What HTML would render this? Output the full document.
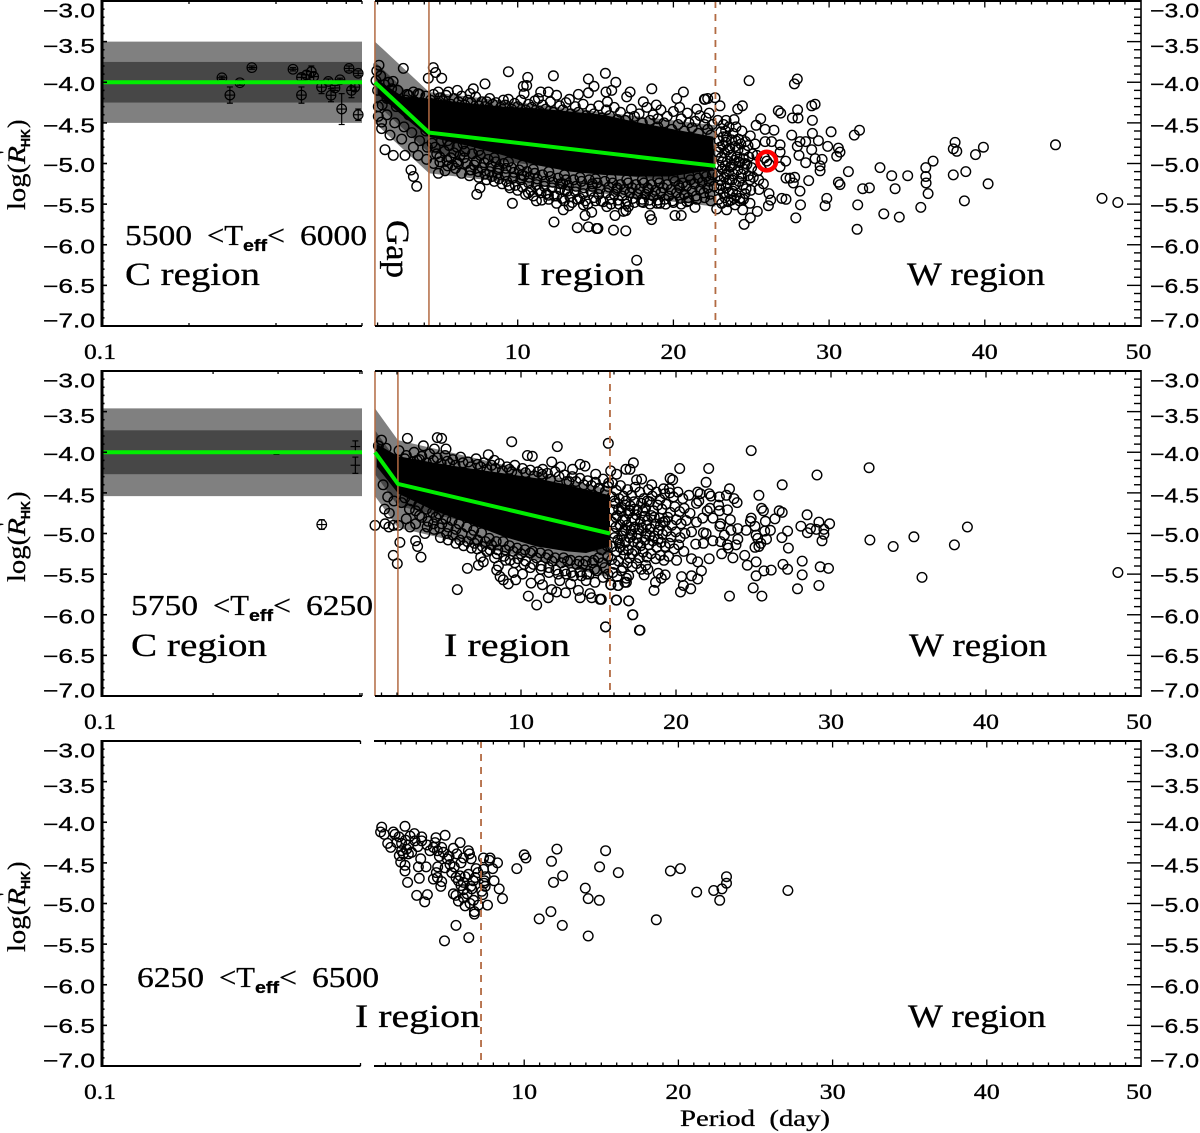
<!DOCTYPE html>
<html lang="en">
<head>
<meta charset="utf-8">
<title>log(R'HK) versus rotation period in three temperature bins</title>
<style>
html,body{margin:0;padding:0;background:#fff}
svg{display:block}
text{fill:#000;white-space:pre;stroke:#000;stroke-width:.3}
.s{font-family:"Liberation Serif",serif}
.a{font-family:"Liberation Sans",sans-serif}
</style>
</head>
<body>
<svg id="chart" xmlns="http://www.w3.org/2000/svg" width="1200" height="1133" viewBox="0 0 1200 1133">
<g id="marks"></g>
<g id="annotations">
<g>
<text class="s" x="125" y="245" font-size="28" textLength="67" lengthAdjust="spacingAndGlyphs">5500</text>
<text class="s" x="207" y="245" font-size="28" textLength="36" lengthAdjust="spacingAndGlyphs">&lt;T</text>
<text class="a" x="243" y="251" font-size="17" font-weight="bold" textLength="24" lengthAdjust="spacingAndGlyphs">eff</text>
<text class="s" x="267" y="245" font-size="28" textLength="18" lengthAdjust="spacingAndGlyphs">&lt;</text>
<text class="s" x="300" y="245" font-size="28" textLength="67" lengthAdjust="spacingAndGlyphs">6000</text>
<text class="s" x="125" y="285" font-size="33" textLength="135" lengthAdjust="spacingAndGlyphs">C region</text>
<text class="s" x="517" y="285" font-size="33" textLength="128" lengthAdjust="spacingAndGlyphs">I region</text>
<text class="s" x="907" y="285" font-size="33" textLength="138" lengthAdjust="spacingAndGlyphs">W region</text>
<text class="s" transform="translate(387,220) rotate(90)" font-size="33" textLength="58" lengthAdjust="spacingAndGlyphs">Gap</text>
</g>
<g>
<text class="s" x="131" y="615" font-size="28" textLength="67" lengthAdjust="spacingAndGlyphs">5750</text>
<text class="s" x="213" y="615" font-size="28" textLength="36" lengthAdjust="spacingAndGlyphs">&lt;T</text>
<text class="a" x="249" y="621" font-size="17" font-weight="bold" textLength="24" lengthAdjust="spacingAndGlyphs">eff</text>
<text class="s" x="273" y="615" font-size="28" textLength="18" lengthAdjust="spacingAndGlyphs">&lt;</text>
<text class="s" x="306" y="615" font-size="28" textLength="67" lengthAdjust="spacingAndGlyphs">6250</text>
<text class="s" x="131" y="656" font-size="33" textLength="136" lengthAdjust="spacingAndGlyphs">C region</text>
<text class="s" x="444" y="656" font-size="33" textLength="126" lengthAdjust="spacingAndGlyphs">I region</text>
<text class="s" x="909" y="656" font-size="33" textLength="138" lengthAdjust="spacingAndGlyphs">W region</text>
</g>
<g>
<text class="s" x="137" y="987" font-size="28" textLength="67" lengthAdjust="spacingAndGlyphs">6250</text>
<text class="s" x="219" y="987" font-size="28" textLength="36" lengthAdjust="spacingAndGlyphs">&lt;T</text>
<text class="a" x="255" y="993" font-size="17" font-weight="bold" textLength="24" lengthAdjust="spacingAndGlyphs">eff</text>
<text class="s" x="279" y="987" font-size="28" textLength="18" lengthAdjust="spacingAndGlyphs">&lt;</text>
<text class="s" x="312" y="987" font-size="28" textLength="67" lengthAdjust="spacingAndGlyphs">6500</text>
<text class="s" x="355" y="1027" font-size="33" textLength="125" lengthAdjust="spacingAndGlyphs">I region</text>
<text class="s" x="908" y="1027" font-size="33" textLength="138" lengthAdjust="spacingAndGlyphs">W region</text>
</g>
<text class="s" x="680" y="1126" font-size="23" textLength="150" lengthAdjust="spacingAndGlyphs">Period  (day)</text>
<g transform="translate(25,210) rotate(-90)">
<text class="s" x="0" y="0" font-size="25" textLength="46" lengthAdjust="spacingAndGlyphs">log(</text>
<text class="s" x="46" y="0" font-size="25" font-style="italic" textLength="18" lengthAdjust="spacingAndGlyphs">R</text>
<text class="s" x="56" y="-14" font-size="18">'</text>
<text class="a" x="63" y="5" font-size="13" font-weight="bold" textLength="18" lengthAdjust="spacingAndGlyphs">HK</text>
<text class="s" x="82" y="0" font-size="25">)</text>
</g>
<g transform="translate(25,582) rotate(-90)">
<text class="s" x="0" y="0" font-size="25" textLength="46" lengthAdjust="spacingAndGlyphs">log(</text>
<text class="s" x="46" y="0" font-size="25" font-style="italic" textLength="18" lengthAdjust="spacingAndGlyphs">R</text>
<text class="s" x="56" y="-14" font-size="18">'</text>
<text class="a" x="63" y="5" font-size="13" font-weight="bold" textLength="18" lengthAdjust="spacingAndGlyphs">HK</text>
<text class="s" x="82" y="0" font-size="25">)</text>
</g>
<g transform="translate(25,952) rotate(-90)">
<text class="s" x="0" y="0" font-size="25" textLength="46" lengthAdjust="spacingAndGlyphs">log(</text>
<text class="s" x="46" y="0" font-size="25" font-style="italic" textLength="18" lengthAdjust="spacingAndGlyphs">R</text>
<text class="s" x="56" y="-14" font-size="18">'</text>
<text class="a" x="63" y="5" font-size="13" font-weight="bold" textLength="18" lengthAdjust="spacingAndGlyphs">HK</text>
<text class="s" x="82" y="0" font-size="25">)</text>
</g>
</g>
</svg>
<script>
// ---------- axis data ----------
const yTicks = [-3, -3.5, -4, -4.5, -5, -5.5, -6, -6.5, -7];
const yTickLabels = ['\u22123.0', '\u22123.5', '\u22124.0', '\u22124.5', '\u22125.0', '\u22125.5', '\u22126.0', '\u22126.5', '\u22127.0'];
const xTicks = [10, 20, 30, 40, 50];
const xTickLabels = ['10', '20', '30', '40', '50'];

// ---------- panel 1 : 5500 < Teff < 6000 ----------
const p1BandPeriod = [0.83, 4.3, 22.7];
const p1BandFit = [-4.0, -4.62, -5.03];
const p1GapEdges = [0.83, 4.3];
const p1Boundary = 22.7;
const p1CWidthOuter = 0.5;
const p1CWidthInner = 0.25;
const p1CorePeriod = [1.0, 2.65, 4.26, 6.94, 9.08, 11.22, 13.36, 15.5, 17.64, 19.79, 22.57];
const p1CoreUpper = [-3.97, -4.18, -4.2, -4.26, -4.3, -4.32, -4.36, -4.4, -4.49, -4.57, -4.67];
const p1CoreLower = [-4.15, -4.42, -4.67, -4.79, -4.9, -5.02, -5.1, -5.14, -5.16, -5.16, -5.08];
const p1LeftStars = [[.26,-3.945],[.33,-3.82],[.30,-4.006],[.277,-4.158],[.458,-3.84],[.49,-4.158],[.53,-3.87],[.51,-3.91],[.49,-3.94],[.54,-3.93],[.575,-4.06],[.607,-3.99],[.62,-4.16],[.666,-3.97],[.64,-4.07],[.675,-4.33],[.716,-3.83],[.73,-4.10],[.77,-3.89],[.77,-4.40],[.75,-4.06]];
const p1LeftErrors = [.02,.02,.03,.1,.02,.1,.07,.05,.04,.05,.08,.03,.08,.02,.03,.19,.03,.09,.03,.07,.05];
const p1Highlight = [26.0, -4.97];
const p1Gap = [[1.09,-3.79],[2.65,-3.83],[1.2,-3.92],[.95,-3.86],[.9,-3.98],[2.0,-3.99],[1.7,-4.0],[1.45,-4.03],[1.0,-4.1],[1.9,-4.08],[2.3,-4.1],[3.3,-4.12],[2.9,-4.15],[3.7,-4.15],[1.26,-4.49],[1.26,-4.57],[1.8,-4.65],[2.55,-4.7],[1.48,-4.83],[2.01,-4.9],[2.76,-4.9],[1.05,-4.3],[1.3,-4.28],[1.05,-4.42],[1.6,-4.4],[2.1,-4.5],[2.7,-4.55],[3.2,-4.62],[3.7,-4.72],[3.3,-4.8],[3.15,-5.08],[3.3,-5.16],[3.51,-5.28],[4.15,-4.95],[3.6,-4.9],[2.2,-4.3],[1.6,-4.2],[3.0,-4.4],[3.8,-4.5],[4.1,-4.6],[4.2,-4.8]];
const p1Upper = [[4.58,-3.82],[4.73,-3.88],[5.12,-3.95],[4.26,-3.95],[9.4,-3.87],[10.64,-3.94],[12.29,-3.92],[14.54,-3.96],[15.63,-3.89],[16.3,-4.0],[14.9,-4.05],[10.58,-4.04],[10.36,-4.05],[10.41,-4.14],[7.9,-4.02],[7.15,-4.08],[6.94,-4.14],[6.12,-4.1],[5.55,-4.12],[4.9,-4.12],[18.61,-4.08],[20.64,-4.12],[20.21,-4.2],[21.99,-4.21],[22.2,-4.2],[17.22,-4.12],[17.0,-4.18],[18.07,-4.24],[16.04,-4.1],[15.67,-4.12],[15.76,-4.24],[13.9,-4.15],[14.54,-4.13],[13.32,-4.21],[12.5,-4.16],[11.97,-4.12],[11.48,-4.12],[11.33,-4.2],[9.08,-4.22],[8.01,-4.24],[3.0,-4.16],[3.6,-4.14],[4.1,-4.17],[4.6,-4.15],[5.0,-4.19],[5.4,-4.16],[5.9,-4.2],[6.4,-4.17],[6.8,-4.22],[7.3,-4.18],[7.7,-4.24],[8.2,-4.2],[8.6,-4.25],[9.4,-4.21],[9.8,-4.26],[10.2,-4.22],[10.7,-4.27],[11.1,-4.23],[11.6,-4.28],[12.1,-4.24],[12.7,-4.29],[13.1,-4.25],[13.7,-4.3],[14.2,-4.27],[14.7,-4.33],[15.2,-4.29],[15.7,-4.34],[16.2,-4.31],[16.6,-4.37],[17.3,-4.33],[17.8,-4.39],[18.3,-4.31],[18.7,-4.4],[19.2,-4.34],[19.6,-4.42],[20.0,-4.36],[20.5,-4.45],[20.9,-4.38],[21.4,-4.48],[21.7,-4.41],[22.1,-4.44],[22.5,-4.52],[22.3,-4.38],[21.0,-4.5],[19.0,-4.45],[17.1,-4.43],[18.9,-4.28],[20.4,-4.31],[21.5,-4.33]];
const p1UpperEdge = [[4.4,-4.22],[4.9,-4.26],[5.2,-4.23],[5.7,-4.27],[6.2,-4.24],[6.6,-4.28],[7.0,-4.25],[7.5,-4.29],[7.9,-4.3],[8.4,-4.27],[8.9,-4.31],[9.2,-4.28],[9.6,-4.33],[10.0,-4.3],[10.5,-4.34],[10.9,-4.31],[11.4,-4.36],[11.8,-4.33],[12.3,-4.37],[12.9,-4.34],[13.4,-4.39],[13.9,-4.37],[14.4,-4.41],[14.9,-4.39],[15.4,-4.44],[15.9,-4.41],[16.4,-4.46],[16.9,-4.47],[17.5,-4.42],[18.0,-4.5],[18.5,-4.47],[19.0,-4.55],[19.4,-4.5],[19.9,-4.58],[20.3,-4.52],[20.7,-4.6],[21.2,-4.56],[21.6,-4.63],[22.0,-4.52],[22.4,-4.65],[22.2,-4.58],[3.4,-4.24],[3.9,-4.26],[2.8,-4.22]];
const p1Lower = [[4.5,-4.75],[4.8,-4.88],[4.6,-5.0],[5.1,-4.72],[5.3,-4.85],[5.0,-4.98],[5.6,-4.78],[5.7,-4.93],[5.5,-5.03],[6.1,-4.8],[6.3,-4.9],[6.0,-5.06],[6.6,-4.85],[6.7,-5.0],[6.4,-5.12],[7.1,-4.88],[7.2,-5.02],[6.9,-5.15],[7.6,-4.9],[7.7,-5.05],[7.5,-5.17],[8.1,-4.95],[8.2,-5.1],[8.0,-5.2],[8.6,-4.98],[8.7,-5.12],[8.5,-5.22],[9.1,-5.0],[9.2,-5.14],[9.0,-5.25],[9.6,-5.05],[9.7,-5.18],[9.5,-5.3],[10.1,-5.08],[10.2,-5.2],[10.0,-5.33],[10.6,-5.1],[10.7,-5.24],[10.5,-5.38],[11.1,-5.12],[11.2,-5.26],[11.0,-5.4],[11.6,-5.14],[11.7,-5.28],[11.5,-5.36],[12.1,-5.16],[12.2,-5.3],[12.0,-5.44],[12.6,-5.18],[12.7,-5.32],[12.5,-5.4],[13.1,-5.2],[13.2,-5.34],[13.0,-5.46],[13.6,-5.2],[13.7,-5.35],[13.5,-5.48],[14.1,-5.22],[14.2,-5.37],[14.0,-5.43],[14.6,-5.2],[14.7,-5.34],[14.5,-5.5],[15.1,-5.24],[15.2,-5.38],[15.0,-5.46],[15.6,-5.22],[15.7,-5.36],[15.5,-5.47],[16.1,-5.24],[16.2,-5.38],[16.0,-5.5],[16.6,-5.26],[16.7,-5.4],[16.5,-5.5],[17.1,-5.24],[17.2,-5.36],[17.0,-5.46],[17.6,-5.26],[17.7,-5.38],[17.5,-5.48],[18.1,-5.24],[18.2,-5.38],[18.0,-5.44],[18.6,-5.26],[18.7,-5.4],[18.5,-5.5],[19.1,-5.24],[19.2,-5.36],[19.0,-5.45],[19.6,-5.26],[19.7,-5.4],[19.5,-5.5],[20.1,-5.22],[20.2,-5.36],[20.0,-5.48],[20.6,-5.24],[20.7,-5.38],[20.5,-5.5],[21.1,-5.2],[21.2,-5.34],[21.0,-5.46],[21.6,-5.18],[21.7,-5.32],[21.5,-5.44],[22.1,-5.16],[22.2,-5.3],[22.0,-5.42],[22.5,-5.14],[22.6,-5.28],[22.4,-5.46],[5.8,-5.02],[7.0,-5.08],[8.8,-5.05],[10.4,-5.15],[12.9,-5.25],[14.8,-5.28],[16.4,-5.3],[18.4,-5.32],[20.4,-5.3]];
const p1LowerFill = [[4.7,-4.8],[5.0,-4.92],[5.45,-4.96],[5.9,-4.87],[6.2,-5.0],[6.55,-4.93],[6.95,-5.08],[7.35,-4.97],[7.45,-5.1],[7.85,-4.99],[7.9,-5.13],[8.3,-5.03],[8.35,-5.16],[8.75,-5.07],[8.8,-5.19],[9.25,-5.06],[9.3,-5.22],[9.75,-5.11],[9.85,-5.27],[10.25,-5.14],[10.3,-5.29],[10.75,-5.17],[10.85,-5.33],[11.25,-5.19],[11.35,-5.33],[11.75,-5.22],[11.85,-5.37],[12.25,-5.23],[12.35,-5.4],[12.75,-5.25],[12.85,-5.43],[13.25,-5.27],[13.35,-5.41],[13.75,-5.28],[13.85,-5.44],[14.25,-5.3],[14.35,-5.46],[14.8,-5.25],[14.9,-5.42],[15.3,-5.31],[15.35,-5.46],[15.85,-5.29],[15.95,-5.44],[16.35,-5.32],[16.45,-5.45],[16.85,-5.32],[16.95,-5.5],[17.35,-5.3],[17.4,-5.43],[17.85,-5.31],[17.95,-5.47],[18.35,-5.3],[18.45,-5.45],[18.85,-5.33],[18.95,-5.49],[19.35,-5.3],[19.45,-5.44],[19.85,-5.32],[19.95,-5.46],[20.35,-5.27],[20.45,-5.43],[20.85,-5.28],[20.95,-5.42],[21.35,-5.25],[21.45,-5.4],[21.85,-5.23],[21.95,-5.36],[22.3,-5.22],[22.35,-5.38],[9.4,-4.98],[10.3,-5.02],[11.0,-5.07],[12.0,-5.1],[13.0,-5.14],[14.0,-5.17],[15.0,-5.19],[16.0,-5.18],[17.0,-5.2],[18.0,-5.2],[19.0,-5.19],[20.0,-5.18],[21.0,-5.15],[22.0,-5.12],[5.5,-4.72],[6.5,-4.76],[7.5,-4.84],[8.5,-4.93]];
const p1LowerOut = [[4.9,-5.12],[5.33,-5.09],[6.12,-4.98],[7.58,-5.3],[7.37,-5.38],[9.66,-5.49],[9.44,-5.27],[10.69,-5.36],[12.33,-5.72],[13.83,-5.79],[14.54,-5.78],[15.07,-5.8],[15.15,-5.8],[16.15,-5.82],[16.94,-5.83],[17.64,-6.19],[14.75,-5.6],[14.33,-5.64],[18.5,-5.64],[18.6,-5.69],[20.1,-5.64],[20.5,-5.64],[16.79,-5.59],[16.25,-5.64],[15.72,-5.53],[12.93,-5.57],[12.5,-5.49],[11.54,-5.45],[11.97,-5.39],[14.22,-5.51],[21.39,-5.54],[19.14,-5.49],[18.07,-5.48],[20.86,-5.47],[17.11,-5.53],[13.04,-5.33],[11.2,-5.46],[13.3,-5.52],[16.95,-5.58]];
const p1West = [[24.86,-3.98],[27.96,-3.96],[27.77,-4.02],[29.1,-4.27],[28.88,-4.29],[24.43,-4.29],[24.13,-4.33],[26.74,-4.35],[26.89,-4.38],[27.98,-4.34],[27.64,-4.44],[28.0,-4.44],[28.93,-4.47],[25.61,-4.45],[25.31,-4.53],[25.89,-4.58],[26.46,-4.59],[27.6,-4.65],[28.93,-4.63],[30.13,-4.61],[31.95,-4.59],[31.62,-4.65],[29.31,-4.72],[28.5,-4.73],[28.13,-4.73],[27.96,-4.79],[29.91,-4.79],[28.88,-4.83],[26.85,-4.77],[26.31,-4.73],[25.89,-4.73],[28.07,-4.9],[29.1,-4.94],[29.55,-4.95],[30.6,-4.81],[30.7,-4.86],[30.49,-4.91],[27.21,-4.97],[26.85,-5.04],[28.5,-4.99],[29.42,-5.03],[29.42,-5.09],[31.24,-5.1],[33.27,-5.05],[34.02,-5.15],[35.05,-5.15],[36.21,-5.05],[36.68,-4.97],[36.21,-5.16],[36.23,-5.24],[36.36,-5.37],[38.09,-4.74],[37.98,-4.82],[38.2,-4.85],[39.91,-4.8],[39.4,-4.89],[38.78,-5.1],[37.98,-5.14],[40.21,-5.25],[38.69,-5.46],[44.54,-4.77],[47.53,-5.43],[48.54,-5.48],[32.59,-5.3],[32.16,-5.31],[34.24,-5.31],[30.6,-5.23],[30.7,-5.26],[28.69,-5.21],[28.13,-5.34],[28.16,-5.51],[29.85,-5.43],[29.74,-5.52],[31.84,-5.51],[33.51,-5.62],[34.51,-5.66],[35.89,-5.54],[31.8,-5.81],[27.86,-5.67],[27.23,-5.18],[27.49,-5.18],[27.79,-5.17],[27.7,-5.24],[26.96,-5.43],[27.23,-5.44],[24.94,-5.67],[24.54,-5.75],[22.78,-5.56],[23.42,-5.57],[24.45,-5.57],[25.39,-5.59],[26.1,-5.52],[26.25,-5.45],[26.14,-5.37],[25.78,-5.25],[25.5,-5.32],[24.92,-5.2],[24.92,-5.49],[24.6,-5.37],[24.28,-5.43],[23.96,-5.51],[22.99,-4.29],[22.67,-4.19],[22.03,-4.21],[23.9,-4.46],[23.38,-4.47],[26.85,-4.86],[26.0,-4.97],[25.85,-4.93],[26.15,-5.01]];
const p1Cluster = [[22.85,-4.47],[23.05,-4.61],[23.22,-4.52],[23.41,-4.67],[23.58,-4.55],[23.83,-4.63],[24.02,-4.55],[24.18,-4.7],[24.4,-4.6],[24.63,-4.73],[24.94,-4.66],[25.25,-4.76],[22.95,-4.72],[23.18,-4.78],[23.36,-4.74],[23.62,-4.81],[23.74,-4.71],[23.96,-4.79],[24.15,-4.83],[24.33,-4.76],[24.58,-4.84],[24.79,-4.78],[25.08,-4.88],[25.36,-4.9],[22.88,-4.86],[23.07,-4.93],[23.29,-4.87],[23.47,-4.97],[23.7,-4.9],[23.92,-4.96],[24.08,-4.92],[24.27,-4.99],[24.49,-4.94],[24.72,-5.01],[25.02,-5.05],[25.42,-5.09],[22.93,-5.02],[23.14,-5.07],[23.33,-5.03],[23.55,-5.1],[23.66,-5.04],[23.87,-5.13],[24.13,-5.08],[24.36,-5.13],[24.54,-5.07],[24.81,-5.15],[25.13,-5.17],[25.48,-5.2],[22.86,-5.15],[23.03,-5.21],[23.27,-5.17],[23.44,-5.24],[23.77,-5.2],[23.98,-5.26],[24.21,-5.22],[24.45,-5.27],[24.67,-5.31],[24.97,-5.33],[22.97,-5.31],[23.2,-5.36],[23.38,-5.3],[23.6,-5.37],[23.81,-5.34],[24.05,-5.39],[24.25,-5.46],[24.5,-5.44],[22.9,-5.44],[23.1,-5.49],[23.31,-5.42],[23.52,-5.47],[23.72,-5.45],[23.9,-5.43],[23.0,-4.8],[23.15,-4.98],[23.4,-5.13],[23.5,-4.83],[23.8,-5.02],[24.0,-4.72],[24.2,-4.98],[24.4,-5.18],[23.2,-4.67],[23.6,-5.2],[24.6,-5.0],[24.85,-4.92],[23.05,-5.27],[23.35,-4.6]];

// ---------- panel 2 : 5750 < Teff < 6250 ----------
const p2BandPeriod = [0.58, 2.06, 15.74];
const p2BandFit = [-4.0, -4.39, -5.0];
const p2GapEdges = [0.58, 2.06];
const p2Boundary = 15.74;
const p2CWidthOuter = 0.54;
const p2CWidthInner = 0.27;
const p2CorePeriod = [0.7, 2.09, 4.4, 6.71, 8.9, 11.01, 13.0, 14.2, 15.74];
const p2CoreUpper = [-3.9, -4.05, -4.13, -4.2, -4.26, -4.32, -4.4, -4.46, -4.53];
const p2CoreLower = [-4.18, -4.51, -4.72, -4.88, -5.04, -5.16, -5.22, -5.24, -5.16];
const p2BarPeriod = [.297, .486, .486];
const p2BarLog = [-4.006, -3.93, -4.16];
const p2BarErrors = [.02, .07, .1];
const p2LeftStars = [[.394,-4.89]];
const p2LeftErrors = [.06];
const p2Upper = [[2.67,-3.83],[4.6,-3.82],[4.88,-3.83],[5.16,-3.96],[3.7,-3.92],[4.41,-3.96],[9.4,-3.87],[12.34,-3.93],[15.63,-3.89],[2.13,-3.98],[7.89,-4.03],[8.28,-4.1],[10.41,-4.04],[10.73,-4.05],[11.98,-4.12],[13.81,-4.15],[14.13,-4.17],[11.4,-4.21],[12.56,-4.18],[13.33,-4.21],[14.82,-4.27],[1.0,-3.85],[.8,-3.92],[1.3,-3.95],[2.6,-4.04],[3.1,-4.0],[3.6,-4.05],[4.1,-4.02],[4.6,-4.07],[5.1,-4.04],[5.6,-4.09],[6.1,-4.06],[6.6,-4.12],[7.1,-4.08],[7.6,-4.13],[8.1,-4.16],[8.6,-4.14],[9.1,-4.18],[9.6,-4.16],[10.1,-4.2],[10.6,-4.22],[11.1,-4.24],[11.7,-4.26],[12.2,-4.24],[12.8,-4.28],[13.3,-4.3],[13.8,-4.32],[14.3,-4.35],[14.8,-4.37],[15.3,-4.33],[15.6,-4.42],[3.3,-4.1],[5.4,-4.14],[7.4,-4.18],[9.4,-4.24],[11.4,-4.3],[13.1,-4.36],[15.0,-4.45]];
const p2UpperEdge = [[2.5,-4.08],[2.95,-4.12],[3.45,-4.09],[3.9,-4.13],[4.35,-4.1],[4.85,-4.14],[5.25,-4.11],[5.75,-4.16],[6.25,-4.13],[6.75,-4.18],[7.2,-4.15],[7.8,-4.21],[8.35,-4.2],[8.8,-4.23],[9.25,-4.21],[9.75,-4.27],[10.3,-4.25],[10.85,-4.29],[11.35,-4.27],[11.9,-4.33],[12.45,-4.3],[12.95,-4.36],[13.55,-4.36],[14.05,-4.4],[14.55,-4.41],[15.05,-4.44],[15.45,-4.48],[15.65,-4.38]];
const p2Lower = [[.58,-4.9],[1.23,-4.88],[1.48,-4.92],[1.76,-4.9],[2.09,-4.9],[2.84,-4.92],[2.19,-5.11],[3.2,-5.09],[3.33,-5.16],[3.55,-5.29],[1.76,-5.27],[2.02,-5.37],[6.54,-5.43],[5.89,-5.69],[10.47,-5.77],[11.01,-5.88],[11.76,-5.79],[12.3,-5.72],[12.88,-5.73],[13.7,-5.7],[13.81,-5.79],[14.45,-5.74],[14.56,-5.79],[15.1,-5.81],[15.18,-5.81],[15.46,-6.15],[16.17,-5.82],[16.95,-5.83],[17.2,-6.0],[17.68,-6.19],[10.65,-5.61],[11.38,-5.63],[11.98,-5.69],[14.77,-5.6],[15.8,-5.63],[16.28,-5.64],[16.8,-5.6],[8.43,-5.45],[8.54,-5.4],[8.65,-5.53],[8.86,-5.57],[9.18,-5.62],[9.5,-5.48],[9.66,-5.57],[7.18,-5.19],[7.4,-5.29],[7.57,-5.35],[7.25,-5.39],[1.1,-4.4],[1.4,-4.55],[1.2,-4.7],[1.8,-4.6],[1.5,-4.75],[2.3,-4.62],[2.8,-4.7],[2.6,-4.82],[3.2,-4.72],[3.6,-4.8],[3.2,-4.88],[4.0,-4.85],[4.5,-4.8],[3.8,-5.0],[4.4,-4.95],[4.9,-4.88],[5.3,-4.92],[4.8,-5.05],[5.3,-5.08],[5.8,-4.95],[6.2,-5.0],[5.8,-5.12],[6.3,-5.15],[6.8,-5.02],[7.2,-5.08],[6.8,-5.18],[7.7,-5.1],[8.1,-5.14],[7.8,-5.22],[8.5,-5.2],[9.0,-5.2],[8.3,-5.3],[9.0,-5.33],[9.5,-5.22],[10.0,-5.25],[9.6,-5.36],[10.2,-5.38],[10.6,-5.24],[11.0,-5.3],[10.6,-5.42],[11.3,-5.44],[11.6,-5.3],[12.0,-5.34],[11.8,-5.48],[12.4,-5.5],[12.6,-5.36],[13.0,-5.34],[12.9,-5.5],[13.4,-5.52],[13.6,-5.38],[14.0,-5.38],[13.9,-5.52],[14.4,-5.5],[14.6,-5.36],[15.0,-5.3],[14.9,-5.46],[15.4,-5.42],[15.6,-5.28],[15.3,-5.54],[10.1,-5.5],[11.2,-5.56],[12.5,-5.58],[13.2,-5.62],[14.2,-5.58]];
const p2LowerFill = [[2.5,-4.56],[2.95,-4.6],[3.4,-4.65],[3.45,-4.78],[3.9,-4.7],[3.95,-4.92],[4.3,-4.74],[4.35,-4.88],[4.7,-4.76],[4.75,-4.93],[5.15,-4.82],[5.2,-5.0],[5.55,-4.84],[5.6,-5.02],[6.0,-4.88],[6.05,-5.08],[6.5,-4.92],[6.55,-5.1],[6.95,-4.96],[7.0,-5.12],[7.45,-4.99],[7.5,-5.16],[7.95,-5.06],[8.0,-5.2],[8.4,-5.1],[8.45,-5.25],[8.85,-5.1],[8.9,-5.28],[9.25,-5.15],[9.3,-5.33],[9.75,-5.18],[9.8,-5.31],[10.25,-5.2],[10.3,-5.34],[10.75,-5.22],[10.8,-5.38],[11.25,-5.24],[11.3,-5.4],[11.75,-5.26],[11.8,-5.42],[12.2,-5.3],[12.25,-5.45],[12.75,-5.3],[12.8,-5.46],[13.2,-5.33],[13.25,-5.48],[13.75,-5.34],[13.8,-5.47],[14.2,-5.34],[14.25,-5.5],[14.7,-5.33],[14.75,-5.44],[15.2,-5.2],[15.25,-5.36],[15.55,-5.15],[15.6,-5.5]];
const p2West = [[24.85,-3.98],[32.46,-4.19],[29.1,-4.28],[26.85,-4.4],[20.24,-4.2],[22.11,-4.2],[17.25,-4.13],[19.62,-4.32],[19.79,-4.34],[21.94,-4.37],[18.43,-4.4],[23.45,-4.45],[25.35,-4.53],[23.74,-4.57],[23.94,-4.62],[20.83,-4.53],[21.4,-4.49],[21.57,-4.51],[22.14,-4.51],[22.26,-4.54],[22.8,-4.55],[23.25,-4.53],[21.47,-4.6],[21.32,-4.63],[22.75,-4.65],[22.19,-4.69],[22.01,-4.72],[22.8,-4.72],[23.32,-4.71],[20.9,-4.75],[21.72,-4.81],[22.38,-4.81],[21.32,-4.86],[23.5,-4.83],[25.52,-4.69],[25.64,-4.72],[26.66,-4.72],[26.85,-4.74],[26.38,-4.82],[25.77,-4.85],[24.85,-4.81],[24.8,-4.85],[25.1,-4.91],[22.88,-4.88],[22.83,-4.91],[23.54,-4.96],[23.99,-4.94],[24.53,-4.96],[25.72,-4.97],[26.09,-4.96],[28.46,-4.77],[29.22,-4.86],[29.91,-4.88],[28.06,-4.91],[28.68,-4.94],[29.05,-4.95],[29.54,-4.95],[28.48,-4.99],[29.54,-5.01],[29.42,-5.09],[27.2,-4.97],[26.83,-5.05],[27.25,-5.18],[25.17,-5.02],[25.27,-5.06],[25.84,-5.07],[25.47,-5.12],[25.35,-5.16],[25.1,-5.17],[23.99,-5.07],[23.12,-5.02],[22.38,-5.09],[22.88,-5.1],[23.32,-5.14],[23.37,-5.18],[23.87,-5.14],[21.77,-4.99],[21.94,-5.0],[21.0,-4.98],[21.77,-5.12],[21.27,-5.13],[22.95,-5.25],[23.67,-5.3],[22.14,-5.31],[24.43,-5.27],[24.6,-5.39],[25.17,-5.35],[21.4,-5.35],[21.0,-5.31],[20.04,-5.33],[21.64,-5.46],[25.67,-5.46],[26.14,-5.45],[25.17,-5.52],[26.9,-5.38],[27.2,-5.44],[28.14,-5.34],[28.14,-5.51],[29.3,-5.41],[29.84,-5.43],[29.22,-5.64],[27.84,-5.68],[24.98,-5.67],[25.54,-5.77],[23.45,-5.77],[21.0,-5.52],[21.4,-5.56],[20.95,-5.68],[20.48,-5.64],[20.29,-5.72],[20.36,-5.53],[19.3,-5.51],[18.85,-5.49],[19.05,-5.55],[18.68,-5.6],[18.58,-5.7],[17.94,-5.51],[18.19,-5.44],[16.95,-5.52],[16.7,-5.6],[16.26,-5.64],[15.79,-5.63],[16.14,-5.82],[16.95,-5.83],[17.22,-6.0],[17.64,-6.19],[15.45,-6.15],[32.51,-5.08],[34.01,-5.16],[35.35,-5.04],[37.96,-5.14],[38.8,-4.92],[35.87,-5.54],[48.51,-5.48],[15.79,-4.23],[16.17,-4.27],[16.77,-4.21],[17.03,-4.21],[17.46,-4.34],[17.78,-4.33],[19.2,-4.45],[19.6,-4.5]];
const p2Cluster = [[15.9,-4.38],[16.15,-4.47],[16.42,-4.41],[16.6,-4.54],[16.88,-4.46],[17.13,-4.53],[17.37,-4.43],[17.66,-4.49],[17.92,-4.57],[18.21,-4.46],[18.47,-4.54],[18.73,-4.49],[18.96,-4.58],[19.28,-4.51],[19.57,-4.45],[19.83,-4.55],[20.12,-4.49],[20.44,-4.57],[15.86,-4.55],[16.08,-4.63],[16.33,-4.57],[16.52,-4.68],[16.79,-4.6],[17.05,-4.66],[17.29,-4.61],[17.51,-4.71],[17.78,-4.63],[18.03,-4.69],[18.29,-4.61],[18.55,-4.72],[18.82,-4.65],[19.09,-4.7],[19.36,-4.64],[19.64,-4.74],[19.92,-4.67],[20.23,-4.73],[20.53,-4.69],[15.95,-4.71],[16.22,-4.78],[16.46,-4.73],[16.7,-4.83],[16.95,-4.75],[17.2,-4.81],[17.44,-4.77],[17.69,-4.86],[17.97,-4.79],[18.16,-4.84],[18.42,-4.78],[18.66,-4.88],[18.93,-4.81],[19.17,-4.86],[19.47,-4.8],[19.73,-4.9],[20.02,-4.83],[20.33,-4.88],[20.66,-4.84],[15.88,-4.86],[16.12,-4.92],[16.38,-4.89],[16.62,-4.97],[16.83,-4.9],[17.1,-4.96],[17.33,-4.92],[17.57,-5.0],[17.82,-4.93],[18.08,-5.0],[18.33,-4.94],[18.6,-5.03],[18.86,-4.96],[19.13,-5.01],[19.4,-4.97],[19.68,-5.04],[19.98,-4.98],[20.27,-5.05],[20.58,-5.0],[15.98,-5.0],[16.25,-5.08],[16.5,-5.03],[16.74,-5.11],[17.0,-5.05],[17.25,-5.1],[17.48,-5.06],[17.73,-5.15],[18.0,-5.08],[18.25,-5.14],[18.5,-5.09],[18.76,-5.17],[19.03,-5.11],[19.3,-5.16],[19.58,-5.12],[19.88,-5.19],[20.17,-5.14],[20.5,-5.22],[15.9,-5.16],[16.17,-5.22],[16.4,-5.17],[16.66,-5.26],[16.92,-5.2],[17.16,-5.25],[17.4,-5.21],[17.63,-5.3],[17.88,-5.23],[18.12,-5.29],[18.38,-5.25],[18.7,-5.31],[18.99,-5.27],[19.22,-5.33],[19.52,-5.28],[15.85,-5.32],[16.05,-5.38],[16.3,-5.34],[16.57,-5.42],[16.86,-5.36],[17.18,-5.41],[17.45,-5.37],[17.75,-5.44],[18.05,-5.39],[15.93,-5.48],[16.2,-5.53],[16.48,-5.46],[16.8,-5.55],[16.02,-4.6],[16.3,-4.7],[16.55,-4.84],[16.12,-4.8],[16.75,-4.96],[16.03,-5.05],[16.35,-5.12],[17.02,-4.72],[17.35,-4.83],[17.6,-4.95],[17.85,-4.72],[18.1,-4.9],[18.3,-5.03],[17.15,-5.01],[17.55,-5.12],[18.6,-4.8],[18.85,-5.07],[16.6,-5.2],[17.0,-5.3],[17.3,-4.7],[16.72,-4.65],[18.15,-4.6],[19.0,-4.9],[19.3,-4.85]];

// ---------- panel 3 : 6250 < Teff < 6500 ----------
const p3Boundary = 7.2;
const p3Stars = [[.76,-4.06],[.69,-4.12],[.93,-4.15],[2.27,-4.05],[1.51,-4.12],[1.62,-4.15],[1.88,-4.18],[2.88,-4.14],[2.6,-4.17],[3.35,-4.18],[4.28,-4.19],[4.87,-4.16],[1.15,-4.26],[1.34,-4.31],[1.73,-4.25],[2.05,-4.26],[2.92,-4.23],[3.35,-4.23],[4.22,-4.25],[4.11,-4.31],[5.84,-4.25],[4.65,-4.31],[5.41,-4.32],[6.38,-4.35],[6.45,-4.39],[1.9,-4.41],[2.16,-4.39],[2.49,-4.39],[2.7,-4.37],[2.05,-4.35],[2.38,-4.33],[3.89,-4.35],[4.37,-4.35],[4.76,-4.37],[5.13,-4.42],[5.63,-4.39],[6.06,-4.44],[6.56,-4.45],[7.36,-4.44],[7.79,-4.44],[7.75,-4.47],[8.27,-4.5],[3.29,-4.45],[1.99,-4.49],[2.27,-4.53],[2.27,-4.6],[3.14,-4.55],[3.64,-4.55],[4.39,-4.55],[4.87,-4.56],[5.19,-4.52],[5.47,-4.55],[6.88,-4.57],[7.36,-4.58],[7.96,-4.57],[3.2,-4.69],[2.44,-4.74],[4.11,-4.7],[4.37,-4.68],[4.65,-4.73],[4.59,-4.79],[5.58,-4.68],[5.84,-4.66],[6.17,-4.67],[6.38,-4.64],[5.73,-4.72],[6.06,-4.74],[6.82,-4.68],[7.47,-4.67],[7.42,-4.72],[8.05,-4.72],[8.38,-4.82],[8.59,-4.94],[3.03,-4.9],[3.72,-4.89],[3.55,-4.98],[5.41,-4.88],[5.58,-4.9],[6.06,-4.83],[6.6,-4.82],[6.54,-4.79],[5.73,-4.97],[6.06,-4.93],[6.17,-5.03],[6.49,-5.0],[6.71,-4.96],[7.03,-5.02],[7.62,-5.02],[6.77,-5.1],[6.77,-5.13],[7.31,-4.89],[7.25,-4.85],[7.47,-4.79],[7.4,-4.75],[5.58,-5.27],[4.83,-5.46],[6.41,-5.42],[10.0,-4.4],[10.11,-4.44],[9.52,-4.57],[12.12,-4.33],[11.77,-4.48],[12.49,-4.66],[11.9,-4.74],[10.97,-5.19],[11.73,-5.1],[12.47,-5.27],[13.96,-4.81],[14.15,-4.94],[14.87,-4.96],[14.15,-5.4],[14.89,-4.55],[15.28,-4.35],[16.1,-4.62],[19.48,-4.6],[20.13,-4.57],[18.57,-5.2],[21.19,-4.86],[22.29,-4.84],[22.83,-4.82],[23.12,-4.67],[23.12,-4.75],[22.68,-4.96],[27.1,-4.84],[5.0,-4.45],[4.5,-4.42],[3.7,-4.28],[3.1,-4.3],[2.5,-4.28],[2.3,-4.22],[5.9,-4.5],[5.3,-4.62],[6.7,-4.72],[5.9,-4.78],[6.3,-4.88],[7.0,-4.62],[4.3,-4.62]];

// ---------- helpers ----------
const SVGNS = 'http://www.w3.org/2000/svg';
const marks = document.getElementById('marks');
const BROWN = '#b26a42';
function el(tag, attrs, parent) {
  const node = document.createElementNS(SVGNS, tag);
  for (const k in attrs) node.setAttribute(k, attrs[k]);
  (parent || marks).appendChild(node);
  return node;
}
function makeScale(cfg) {
  return {
    x: p => cfg.x0 + cfg.k * p,
    xl: p => 102 + cfg.decade * Math.log10(p / 0.1),
    y: v => cfg.top + (-3 - v) * cfg.unit
  };
}
function poly(pts, fill, name, parent) {
  const node = el('polygon', {points: pts.map(q => q[0].toFixed(1) + ',' + q[1].toFixed(1)).join(' '), fill: fill}, parent);
  
  
  return node;
}
function drawCBand(s, width, fit, fill, name, leftEnd) {
  const rect = el('rect', {x: 103, y: s.y(fit + width), width: leftEnd - 103, height: s.y(fit - width) - s.y(fit + width), fill: fill});
  
  
}
function drawFitBand(s, periods, fit, width, fill, name) {
  const up = periods.map((p, i) => [s.x(p), s.y(fit[i] + width)]);
  const lo = periods.map((p, i) => [s.x(p), s.y(fit[i] - width)]).reverse();
  poly(up.concat(lo), fill, name);
}
function drawCore(s, periods, upper, lower, name) {
  const up = periods.map((p, i) => [s.x(p), s.y(upper[i])]);
  const lo = periods.map((p, i) => [s.x(p), s.y(lower[i])]).reverse();
  poly(up.concat(lo), '#000', name);
}
function drawStars(s, pts, name) {
  const g = el('g', {fill: 'none', stroke: '#000', 'stroke-width': 1.4});
  
  
  pts.forEach(q => {
    const c = el('circle', {cx: s.x(q[0]).toFixed(1), cy: s.y(q[1]).toFixed(1), r: 4.8}, g);
    
    
  });
}
function drawErrorStars(s, pts, errs, name, withCircle) {
  const g = el('g', {fill: 'none', stroke: '#000', 'stroke-width': 1.2});
  
  
  pts.forEach((q, i) => {
    const cx = s.xl(q[0]), cy = s.y(q[1]);
    const t = s.y(q[1] + errs[i]), b = s.y(q[1] - errs[i]);
    el('line', {x1: cx, x2: cx, y1: t, y2: b}, g);
    el('line', {x1: cx - 3, x2: cx + 3, y1: t, y2: t}, g);
    el('line', {x1: cx - 3, x2: cx + 3, y1: b, y2: b}, g);
    el('line', {x1: cx - 4.8, x2: cx + 4.8, y1: cy, y2: cy}, g);
    if (withCircle) {
      const c = el('circle', {cx: cx, cy: cy, r: 4.8}, g);
      
      
    }
  });
}
function vLine(s, p, dashed, name, cfg) {
  const l = el('line', {x1: s.x(p), x2: s.x(p), y1: cfg.top, y2: cfg.top + 325, stroke: BROWN, 'stroke-width': dashed ? 1.8 : 1.5});
  if (dashed) l.setAttribute('stroke-dasharray', '7 6');
  
  
}
function fitLine(s, periods, fit, name) {
  const l = el('polyline', {points: periods.map((p, i) => s.x(p).toFixed(1) + ',' + s.y(fit[i]).toFixed(1)).join(' '), fill: 'none', stroke: '#00ee00', 'stroke-width': 4});
  
  
}
function hSeg(x1, x2, y, w, name) {
  const l = el('line', {x1: x1, x2: x2, y1: y, y2: y, stroke: '#000', 'stroke-width': w});
  
  
}
function drawAxes(s, cfg, n) {
  const top = cfg.top, bot = cfg.top + 325;
  const g = el('g', {stroke: '#000'});
  
  
  hSeg(102, cfg.leftEnd, top, 2, n + '-top-axis-left');
  hSeg(102, cfg.leftEnd, bot, 2, n + '-bottom-axis-left');
  hSeg(cfg.rightStart, 1141, top, 2, n + '-top-axis-right');
  hSeg(cfg.rightStart, 1141, bot, 2, n + '-bottom-axis-right');
  el('line', {x1: 102, x2: 102, y1: top - 1, y2: bot + 1, 'stroke-width': 3}, g);
  el('line', {x1: 1141, x2: 1141, y1: top - 1, y2: bot + 1, 'stroke-width': 1.6}, g);
  // y ticks every 0.1
  for (let i = 0; i <= 40; i++) {
    const y = top + i * (325 / 40);
    const major = i % 5 === 0;
    el('line', {x1: 102, x2: 102 + (major ? 5 : 2.5), y1: y, y2: y, 'stroke-width': 1.6}, g);
    el('line', {x1: 1141, x2: 1141 - (major ? 14 : 7), y1: y, y2: y, 'stroke-width': 1.4}, g);
  }
  // x ticks every day on the linear part
  for (let p = 1; p <= 49; p++) {
    const x = s.x(p);
    if (x < cfg.rightStart) continue;
    const len = p % 10 === 0 ? 6.5 : 3.5;
    el('line', {x1: x, x2: x, y1: top, y2: top + len, 'stroke-width': 1.3}, g);
    el('line', {x1: x, x2: x, y1: bot, y2: bot - len, 'stroke-width': 1.3}, g);
  }
  // log ticks on the C-region part
  cfg.logTicks.forEach(p => {
    const x = s.xl(p);
    el('line', {x1: x, x2: x, y1: top, y2: top + 3, 'stroke-width': 1.3}, g);
    el('line', {x1: x, x2: x, y1: bot, y2: bot - 3, 'stroke-width': 1.3}, g);
  });
  el('line', {x1: cfg.leftEnd, x2: cfg.leftEnd, y1: bot, y2: bot - 3, 'stroke-width': 1.3}, g);
  el('line', {x1: cfg.leftEnd, x2: cfg.leftEnd, y1: top, y2: top + 3, 'stroke-width': 1.3}, g);

  // y tick labels on both sides
  const nudge = [9, 4, 1, 2, 1, 1, 1, 0, -6];
  yTicks.forEach((v, i) => {
    const base = s.y(v) + nudge[i] + 7.5;
    const a = el('text', {x: 43, y: base, 'class': 'a', 'font-size': 20, textLength: 52, lengthAdjust: 'spacingAndGlyphs'});
    
    
    a.textContent = yTickLabels[i];
    const b = el('text', {x: 1150, y: base, 'class': 'a', 'font-size': 20, textLength: 49, lengthAdjust: 'spacingAndGlyphs'});
    
    
    b.textContent = yTickLabels[i];
  });
  // x tick labels
  const first = el('text', {x: 84, y: cfg.labelY, 'class': 's', 'font-size': 22, textLength: 32, lengthAdjust: 'spacingAndGlyphs'});
  
  
  first.textContent = '0.1';
  xTicks.forEach((p, i) => {
    const t = el('text', {x: s.x(p) - 13 - (p === 50 ? 2 : 0), y: cfg.labelY, 'class': 's', 'font-size': 22, textLength: 26, lengthAdjust: 'spacingAndGlyphs'});
    
    
    t.textContent = xTickLabels[i];
  });
}

// ---------- panel configs (scales only) ----------
const cfg1 = {x0: 362, k: 15.57, decade: 289, top: 1, unit: 81.25, leftEnd: 362, rightStart: 375, labelY: 359, logTicks: [.2, .4, .6, .7]};
const cfg2 = {x0: 366, k: 15.5, decade: 369, top: 371, unit: 81.25, leftEnd: 362, rightStart: 375, labelY: 729, logTicks: [.2, .3, .4, .5]};
const cfg3 = {x0: 370, k: 15.42, decade: 369, top: 741, unit: 81.25, leftEnd: 360.5, rightStart: 374, labelY: 1099, logTicks: []};
const s1 = makeScale(cfg1), s2 = makeScale(cfg2), s3 = makeScale(cfg3);

// ---------- panel 1 ----------
drawCBand(s1, p1CWidthOuter, -4, '#808080', 'panel-1-c-band-outer', 362);
drawCBand(s1, p1CWidthInner, -4, '#474747', 'panel-1-c-band-inner', 362);
drawFitBand(s1, p1BandPeriod, p1BandFit, p1CWidthOuter, '#808080', 'panel-1-i-band-outer');
drawFitBand(s1, p1BandPeriod, p1BandFit, p1CWidthInner, '#474747', 'panel-1-i-band-inner');
drawCore(s1, p1CorePeriod, p1CoreUpper, p1CoreLower, 'panel-1-saturated-star-core');
drawStars(s1, p1Gap, 'panel-1-gap-stars');
drawStars(s1, p1Upper, 'panel-1-upper-stars');
drawStars(s1, p1UpperEdge, 'panel-1-upper-edge-stars');
drawStars(s1, p1Lower, 'panel-1-lower-stars');
drawStars(s1, p1LowerFill, 'panel-1-lower-fill-stars');
drawStars(s1, p1LowerOut, 'panel-1-lower-outliers');
drawStars(s1, p1Cluster, 'panel-1-boundary-cluster');
drawStars(s1, p1West, 'panel-1-w-region-stars');
drawErrorStars(s1, p1LeftStars, p1LeftErrors, 'panel-1-c-region-stars', true);
vLine(s1, p1GapEdges[0], false, 'panel-1-gap-left-edge', cfg1);
vLine(s1, p1GapEdges[1], false, 'panel-1-gap-right-edge', cfg1);
vLine(s1, p1Boundary, true, 'panel-1-iw-boundary', cfg1);
const cFit1 = el('line', {x1: 102, x2: 362, y1: s1.y(-4), y2: s1.y(-4), stroke: '#00ee00', 'stroke-width': 4});


fitLine(s1, p1BandPeriod, p1BandFit, 'panel-1-i-region-fit');
const sun = el('circle', {cx: s1.x(p1Highlight[0]), cy: s1.y(p1Highlight[1]), r: 9.3, fill: 'none', stroke: '#ff0000', 'stroke-width': 4.5});


drawAxes(s1, cfg1, 'panel-1');

// ---------- panel 2 ----------
drawCBand(s2, p2CWidthOuter, -4, '#808080', 'panel-2-c-band-outer', 362);
drawCBand(s2, p2CWidthInner, -4, '#474747', 'panel-2-c-band-inner', 362);
drawFitBand(s2, p2BandPeriod, p2BandFit, p2CWidthOuter, '#808080', 'panel-2-i-band-outer');
drawFitBand(s2, p2BandPeriod, p2BandFit, p2CWidthInner, '#474747', 'panel-2-i-band-inner');
drawCore(s2, p2CorePeriod, p2CoreUpper, p2CoreLower, 'panel-2-saturated-star-core');
drawStars(s2, p2Upper, 'panel-2-upper-stars');
drawStars(s2, p2UpperEdge, 'panel-2-upper-edge-stars');
drawStars(s2, p2Lower, 'panel-2-lower-stars');
drawStars(s2, p2LowerFill, 'panel-2-lower-fill-stars');
drawStars(s2, p2Cluster, 'panel-2-boundary-cluster');
drawStars(s2, p2West, 'panel-2-w-region-stars');
drawErrorStars(s2, p2BarPeriod.map((p, i) => [p, p2BarLog[i]]), p2BarErrors, 'panel-2-c-region-error-bars', false);
drawErrorStars(s2, p2LeftStars, p2LeftErrors, 'panel-2-c-region-stars', true);
vLine(s2, p2GapEdges[0], false, 'panel-2-gap-left-edge', cfg2);
vLine(s2, p2GapEdges[1], false, 'panel-2-gap-right-edge', cfg2);
vLine(s2, p2Boundary, true, 'panel-2-iw-boundary', cfg2);
const cFit2 = el('line', {x1: 102, x2: 362, y1: s2.y(-4), y2: s2.y(-4), stroke: '#00ee00', 'stroke-width': 4});


fitLine(s2, p2BandPeriod, p2BandFit, 'panel-2-i-region-fit');
drawAxes(s2, cfg2, 'panel-2');

// ---------- panel 3 ----------
drawStars(s3, p3Stars, 'panel-3-stars');
vLine(s3, p3Boundary, true, 'panel-3-iw-boundary', cfg3);
drawAxes(s3, cfg3, 'panel-3');
</script>
</body>
</html>
